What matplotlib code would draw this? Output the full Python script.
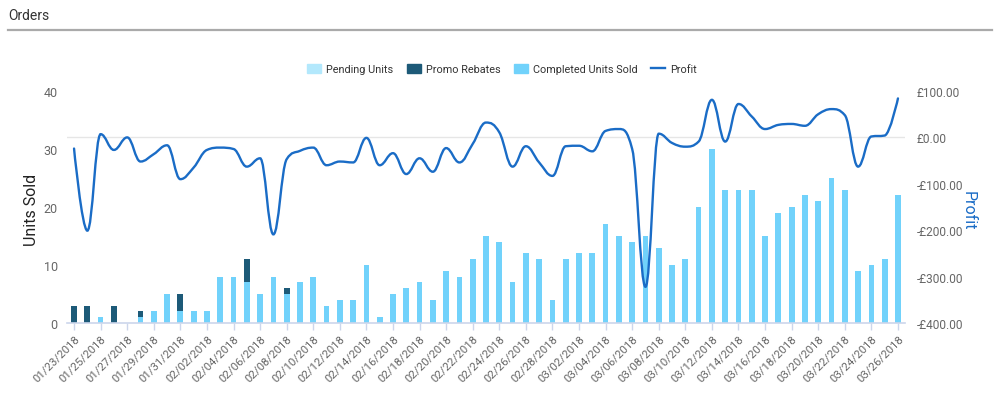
import datetime as dt
import numpy as np
import matplotlib
matplotlib.use("Agg")
import matplotlib.pyplot as plt
from matplotlib.path import Path
from matplotlib.patches import PathPatch, Patch
from matplotlib.lines import Line2D

plt.rcParams['font.family'] = ['Roboto', 'DejaVu Sans']

# ---------------- data ----------------
start = dt.date(2018, 1, 23)
dates = [(start + dt.timedelta(days=i)).strftime('%m/%d/%Y') for i in range(63)]

pending_units = [0] * 63

promo_rebates = [3, 3, 0, 3, 0, 1, 0, 0, 3,
                 0, 0, 0, 0, 4, 0, 0, 1, 0, 0, 0, 0, 0, 0, 0, 0, 0, 0, 0, 0, 0, 0, 0, 0, 0, 0, 0, 0,
                 0, 0, 0, 0, 0, 0, 0, 0, 0, 0, 0, 0, 0, 0, 0, 0, 0, 0, 0, 0, 0, 0, 0, 0, 0, 0]

completed_units = [0, 0, 1, 0, 0, 1, 2, 5, 2,
                   2, 2, 8, 8, 7, 5, 8, 5, 7, 8, 3, 4, 4, 10, 1, 5, 6, 7, 4, 9, 8, 11, 15, 14, 7, 12, 11, 4,
                   11, 12, 12, 17, 15, 14, 15, 13, 10, 11, 20, 30, 23, 23, 23, 15, 19, 20, 22, 21, 25, 23, 9, 10, 11, 22]

profit = [-24, -201, 7, -27, 0, -52, -36, -17, -90,
          -65, -27, -22, -25, -63, -45, -209, -47, -29, -22, -60, -52, -54, -1, -60, -34, -79, -45, -74,
          -23, -54, -14, 32, 11, -63, -19, -54, -83,
          -19, -18, -30, 14, 18, -25, -322, 8, -12, -20, -9, 81, -9, 72, 45, 18, 27, 29, 25, 50, 61, 48,
          -63, 2, 4, 84]

tick_labels = dates[::2]

# ---------------- colours ----------------
c_pending = '#b3e8fc'
c_promo = '#1d5a78'
c_completed = '#71d2fb'
c_profit = '#1a6cc6'
c_text = '#666666'

W, H = 1000, 402
fig = plt.figure(figsize=(W / 100, H / 100), dpi=100)

# title + rule
fig.text(8 / W, 1 - 16 / H, 'Orders', fontsize=10, color='#333333', va='center', ha='left')
fig.add_artist(Line2D([8 / W, 992 / W], [1 - 31 / H, 1 - 31 / H], color='#aaaaaa', lw=1.6,
                      transform=fig.transFigure))

left, right, top, bottom = 67.4, 904.6, 92, 324
ax = fig.add_axes([left / W, 1 - bottom / H, (right - left) / W, (bottom - top) / H])
ax2 = ax.twinx()

x = np.arange(len(dates))
bw = 0.43
comp = np.array(completed_units)
promo = np.array(promo_rebates)
pend = np.array(pending_units)
ax.bar(x, comp, width=bw, color=c_completed, linewidth=0, zorder=2)
ax.bar(x, promo, width=bw, bottom=comp, color=c_promo, linewidth=0, zorder=2)
ax.bar(x, pend, width=bw, bottom=comp + promo, color=c_pending, linewidth=0, zorder=2)

ax.set_xlim(-0.5, len(dates) - 0.5)
ax.set_ylim(0, 40)
ax.set_yticks([0, 10, 20, 30, 40])
ax.set_xticks(x[::2])
ax.set_xticklabels(tick_labels, rotation=45, ha='right', rotation_mode='anchor',
                   fontsize=8.2, color=c_text)
ax.tick_params(axis='x', length=5, color='#ccd6eb', width=1, pad=2)
ax.tick_params(axis='y', length=0, labelsize=9, labelcolor=c_text, pad=7)
for s in ['top', 'right', 'left']:
    ax.spines[s].set_visible(False)
ax.spines['bottom'].set_color('#ccd6eb')
ax.spines['bottom'].set_linewidth(1.2)
ax.set_ylabel('Units Sold', fontsize=11.5, color='#222222', va='center')
ax.yaxis.set_label_coords((32 - left) / (right - left), 0.49)

# ---------------- profit spline (Highcharts style) ----------------
def spline_path(xs, ys, smoothing=1.5):
    denom = smoothing + 1
    n = len(xs)
    rc = [None] * n
    verts = [(xs[0], ys[0])]
    codes = [Path.MOVETO]
    for i in range(1, n):
        px, py = xs[i], ys[i]
        lcx, lcy = px, py
        if i < n - 1:
            lx, ly = xs[i - 1], ys[i - 1]
            nx, ny = xs[i + 1], ys[i + 1]
            lcx = (smoothing * px + lx) / denom
            lcy = (smoothing * py + ly) / denom
            rcx = (smoothing * px + nx) / denom
            rcy = (smoothing * py + ny) / denom
            corr = 0
            if rcx != lcx:
                corr = ((rcy - lcy) * (rcx - px)) / (rcx - lcx) + py - rcy
            lcy += corr
            rcy += corr
            if lcy > ly and lcy > py:
                lcy = max(ly, py); rcy = 2 * py - lcy
            elif lcy < ly and lcy < py:
                lcy = min(ly, py); rcy = 2 * py - lcy
            if rcy > ny and rcy > py:
                rcy = max(ny, py); lcy = 2 * py - rcy
            elif rcy < ny and rcy < py:
                rcy = min(ny, py); lcy = 2 * py - rcy
            rc[i] = (rcx, rcy)
        prev = rc[i - 1] if rc[i - 1] is not None else (xs[i - 1], ys[i - 1])
        verts += [prev, (lcx, lcy), (px, py)]
        codes += [Path.CURVE4] * 3
    return Path(verts, codes)

ax2.add_patch(PathPatch(spline_path(list(x.astype(float)), [float(v) for v in profit]),
                        facecolor='none', edgecolor=c_profit, lw=1.7, zorder=5, capstyle='round'))
ax2.axhline(0, color='#e6e6e6', lw=1, zorder=0)
ax2.set_ylim(-400, 100)
ax2.set_yticks([-400, -300, -200, -100, 0, 100])
ax2.set_yticklabels([('-£%.2f' % abs(v)) if v < 0 else ('£%.2f' % v) for v in [-400, -300, -200, -100, 0, 100]],
                    fontsize=8.6, color=c_text)
ax2.tick_params(axis='y', length=0, pad=8.5)
for s in ['top', 'right', 'left', 'bottom']:
    ax2.spines[s].set_visible(False)
ax2.set_ylabel('Profit', fontsize=11.5, color=c_profit, rotation=270, va='center')
ax2.yaxis.set_label_coords((968 - left) / (right - left), 0.49)
ax.set_zorder(1)
ax2.set_zorder(2)
ax2.patch.set_visible(False)

handles = [Patch(color=c_pending), Patch(color=c_promo), Patch(color=c_completed),
           Line2D([0], [0], color=c_profit, lw=1.7)]
labels = ['Pending Units', 'Promo Rebates', 'Completed Units Sold', 'Profit']
fig.legend(handles, labels, loc='center', bbox_to_anchor=(0.502, 1 - 70 / H), ncol=4, frameon=False,
           fontsize=7.8, labelcolor='#333333', handlelength=1.3, handleheight=1.0,
           handletextpad=0.5, columnspacing=1.2)

fig.savefig('out.png', dpi=100)
